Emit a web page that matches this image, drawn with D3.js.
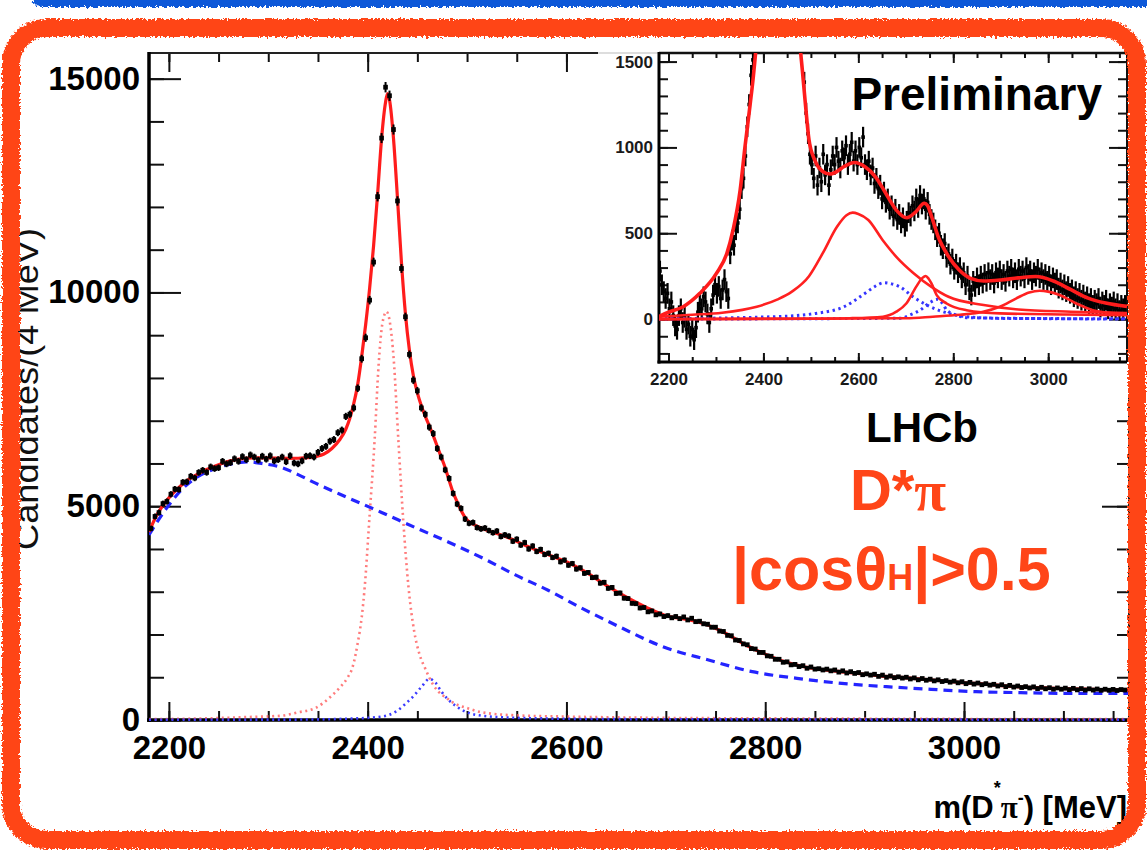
<!DOCTYPE html>
<html>
<head>
<meta charset="utf-8">
<script src="https://cdn.jsdelivr.net/npm/d3@7"></script>
<style>
html, body { margin: 0; padding: 0; background: #fff; }
svg { display: block; font-family: "Liberation Sans", Arial, Helvetica, sans-serif; }
</style>
</head>
<body>
<div id="chart"></div>
<script>
// binned data, 4 MeV bins starting at 2180
var binStart = 2180, binWidth = 4;

// main plot, candidates per bin
var counts = [
  4480, 4760, 4850, 5060, 5110, 5280, 5400, 5390, 5560, 5570,
  5700, 5660, 5790, 5840, 5790, 5920, 5880, 5900, 6050, 5990,
  6020, 6110, 6050, 6160, 6090, 6200, 6150, 6080, 6170, 6100,
  6180, 6060, 6090, 6150, 6040, 6180, 6010, 5990, 6060, 6170,
  6180, 6150, 6260, 6350, 6400, 6520, 6560, 6720, 6780, 7100,
  7150, 7300, 7760, 8450, 8940, 9820, 10710, 12240, 13610, 14800,
  14600, 13810, 12140, 10560, 9430, 8550, 7950, 7700, 7300, 7150,
  6850, 6700, 6350, 6150, 5850, 5650, 5300, 5050, 4950, 4700,
  4600, 4620, 4500, 4470, 4490, 4430, 4380, 4420, 4290, 4330,
  4300, 4180, 4230, 4090, 4150, 4000, 4070, 3940, 3990, 3870,
  3900, 3800, 3830, 3700, 3740, 3620, 3660, 3530, 3560, 3430,
  3450, 3330, 3340, 3200, 3220, 3080, 3100, 2960, 2970, 2850,
  2840, 2730, 2720, 2620, 2630, 2530, 2550, 2460, 2480, 2420,
  2440, 2390, 2420, 2370, 2410, 2340, 2380, 2300, 2310, 2250,
  2240, 2170, 2170, 2080, 2070, 1980, 1970, 1870, 1860, 1780,
  1760, 1670, 1660, 1580, 1580, 1500, 1490, 1420, 1420, 1350,
  1360, 1290, 1300, 1250, 1270, 1210, 1240, 1190, 1200, 1170,
  1190, 1150, 1170, 1120, 1150, 1100, 1130, 1090, 1110, 1060,
  1080, 1050, 1070, 1020, 1050, 1000, 1030, 990, 1010, 980,
  1000, 960, 985, 940, 970, 930, 955, 915, 940, 900,
  920, 885, 910, 870, 895, 850, 880, 840, 865, 825,
  850, 815, 835, 795, 825, 780, 810, 770, 795, 760,
  780, 750, 775, 735, 765, 730, 755, 720, 750, 720,
  745, 710, 740, 705, 735, 700, 730, 700, 725, 695,
  720, 695, 715, 690, 712, 700
];

// inset (zoomed) data, null = off scale
var insetCounts = [
  280, 200, 160, 120, 150, 60, 100, 20, -40, -60,
  20, 60, -20, 10, -60, -30, -100, -60, -120, -50,
  40, 90, 60, 130, 100, 30, -20, 60, 140, 200,
  150, 190, 120, 170, 230, 160, 120, 380, 460, 430,
  520, 560, 640, 760, 820, 950, 1120, 1250, 1420, 1510,
  null, null, null, null, null, null, null, null, null, null,
  null, null, null, null, null, null, null, null, null, null,
  null, null, null, null, null, null, 1380, 1200, 1080, 960,
  900, 820, 950, 780, 880, 800, 960, 840, 900, 780,
  870, 950, 900, 1000, 920, 880, 980, 940, 1010, 900,
  960, 1030, 920, 980, 900, 1000, 940, 1060, 900, 870,
  920, 840, 880, 790, 820, 760, 780, 700, 740, 680,
  700, 640, 660, 600, 640, 580, 610, 560, 590, 540,
  570, 620, 600, 660, 630, 700, 650, 720, 670, 700,
  640, 680, 610, 580, 560, 520, 480, 500, 430, 410,
  440, 360, 380, 320, 350, 290, 320, 270, 300, 240,
  270, 200, 250, 170, 140, 220, 190, 240, 200, 250,
  210, 260, 220, 270, 230, 260, 210, 270, 240, 280,
  230, 260, 220, 280, 250, 290, 240, 270, 230, 290,
  250, 280, 240, 300, 260, 280, 230, 270, 250, 290,
  240, 270, 230, 260, 220, 250, 200, 240, 210, 230,
  180, 210, 170, 200, 160, 190, 150, 170, 130, 160,
  120, 150, 110, 140, 100, 130, 90, 120, 80, 110,
  90, 120, 70, 100, 80, 110, 60, 90, 70, 100,
  60, 90, 50, 80, 60, 80
];
var insetErr = 60;

// main plot curves [mass, value]
var fitCurve = [
  [2180, 4400], [2188, 4800], [2196, 5080], [2204, 5300], [2212, 5480], [2220, 5630],
  [2228, 5740], [2236, 5840], [2244, 5920], [2252, 5990], [2260, 6050], [2268, 6090],
  [2276, 6120], [2284, 6130], [2292, 6130], [2300, 6130], [2310, 6125], [2320, 6120],
  [2330, 6122], [2340, 6135], [2348, 6165], [2356, 6220], [2364, 6350], [2372, 6560],
  [2378, 6800], [2382, 7050], [2386, 7400], [2390, 7850], [2394, 8500], [2398, 9250],
  [2402, 10100], [2406, 11100], [2410, 12300], [2414, 13600], [2418, 14450], [2420, 14650],
  [2422, 14500], [2426, 13600], [2430, 12200], [2434, 10700], [2438, 9500], [2442, 8650],
  [2446, 8050], [2450, 7650], [2454, 7350], [2458, 7100], [2462, 6880], [2466, 6650],
  [2470, 6400], [2474, 6150], [2478, 5900], [2482, 5600], [2486, 5320], [2490, 5100],
  [2494, 4900], [2498, 4740], [2502, 4640], [2506, 4580], [2520, 4440], [2540, 4280],
  [2560, 4070], [2580, 3880], [2600, 3700], [2620, 3450], [2640, 3150], [2660, 2880],
  [2680, 2640], [2700, 2440], [2720, 2360], [2740, 2240], [2760, 2030], [2780, 1760],
  [2800, 1540], [2820, 1360], [2840, 1240], [2860, 1170], [2880, 1120], [2900, 1070],
  [2920, 1020], [2940, 990], [2960, 950], [2980, 910], [3000, 870], [3020, 840],
  [3040, 800], [3060, 770], [3080, 750], [3100, 735], [3120, 720], [3140, 710], [3166, 700]
];
var bkgCurve = [
  [2180, 4330], [2196, 4900], [2213, 5390], [2229, 5690], [2246, 5870], [2263, 5990],
  [2280, 6035], [2296, 5990], [2313, 5910], [2330, 5740], [2347, 5545], [2380, 5200],
  [2414, 4855], [2447, 4510], [2481, 4165], [2518, 3760], [2548, 3400], [2582, 3030],
  [2615, 2620], [2653, 2183], [2697, 1715], [2743, 1403], [2787, 1130], [2832, 974],
  [2877, 857], [2922, 779], [2967, 717], [3012, 662], [3057, 639], [3102, 623], [3166, 620]
];
var d1Curve = [
  [2180, 20], [2240, 40], [2280, 70], [2313, 100], [2330, 180], [2347, 276], [2364, 572],
  [2372, 760], [2380, 1000], [2385, 1250], [2390, 1800], [2394, 2400], [2397, 3100],
  [2402, 4800], [2407, 6550], [2411, 8300], [2415, 9300], [2419, 9550], [2423, 9200],
  [2426, 8500], [2431, 6500], [2436, 4600], [2441, 3130], [2447, 2050], [2452, 1550],
  [2458, 1200], [2466, 820], [2471, 670], [2480, 500], [2488, 380], [2500, 280],
  [2515, 180], [2548, 110], [2600, 80], [2700, 50], [2850, 35], [3000, 25], [3166, 20]
];
var d2Curve = [
  [2180, 5], [2330, 10], [2380, 30], [2414, 80], [2430, 220], [2440, 420], [2447, 580],
  [2455, 800], [2462, 960], [2468, 880], [2474, 670], [2481, 480], [2488, 340],
  [2500, 180], [2515, 100], [2550, 50], [2650, 20], [3166, 5]
];

// inset curves [mass, value]
var insetFitLeft = [
  [2180, 15], [2200, 40], [2231, 72], [2266, 150], [2301, 266], [2323, 383], [2336, 519],
  [2351, 752], [2361, 1000], [2372, 1250], [2379, 1420], [2385, 1600], [2390, 1800]
];
var insetFitRight = [
  [2472, 1800], [2477, 1600], [2482, 1450], [2489, 1236], [2496, 1044], [2508, 927],
  [2525, 860], [2540, 845], [2555, 860], [2569, 887], [2592, 912], [2614, 887],
  [2636, 829], [2658, 732], [2680, 635], [2702, 590], [2721, 625], [2739, 675],
  [2746, 660], [2754, 600], [2768, 481], [2790, 365], [2812, 287], [2835, 239],
  [2864, 222], [2900, 228], [2937, 240], [2974, 248], [3011, 222], [3048, 171],
  [3084, 122], [3121, 93], [3166, 74]
];
var insetBroad = [
  [2180, 14], [2250, 25], [2313, 37], [2386, 72], [2430, 115], [2460, 160], [2496, 250],
  [2525, 384], [2555, 538], [2575, 605], [2588, 620], [2600, 612], [2621, 577],
  [2651, 461], [2680, 363], [2717, 266], [2754, 188], [2790, 130], [2864, 82],
  [2937, 56], [3048, 43], [3166, 35]
];
var insetNarrow = [
  [2180, 0], [2500, 2], [2582, 5], [2652, 14], [2680, 43], [2701, 91], [2722, 189],
  [2735, 240], [2742, 251], [2748, 235], [2754, 208], [2765, 140], [2786, 91],
  [2828, 52], [2898, 33], [3038, 27], [3166, 23]
];
var insetHigh = [
  [2180, 0], [2700, 5], [2757, 14], [2814, 25], [2863, 43], [2898, 72], [2933, 121],
  [2960, 155], [2982, 165], [3000, 160], [3024, 140], [3059, 91], [3094, 52],
  [3144, 33], [3166, 28]
];
var insetBlueBroad = [
  [2180, 2], [2423, 14], [2510, 33], [2570, 72], [2614, 150], [2635, 190], [2654, 212],
  [2670, 205], [2687, 189], [2715, 130], [2744, 82], [2778, 43], [2828, 14],
  [2900, 4], [3166, 2]
];
var insetBlueNarrow = [
  [2180, 0], [2690, 5], [2708, 23], [2730, 52], [2750, 95], [2766, 115], [2780, 80],
  [2786, 52], [2807, 23], [2830, 8], [3166, 0]
];

// tick labels
var massTicks = [2200, 2400, 2600, 2800, 3000];
var mainYTicks = [0, 5000, 10000, 15000];
var insetYTicks = [0, 500, 1000, 1500];

var W = 1147, H = 850;
var ORANGE = "#ff4518";
var FONT = '"Liberation Sans", Arial, Helvetica, sans-serif';

var svg = d3.select("#chart").append("svg")
    .attr("width", W)
    .attr("height", H);

var defs = svg.append("defs");
var rough = defs.append("filter").attr("id", "rough")
    .attr("x", "-5%").attr("y", "-5%").attr("width", "110%").attr("height", "110%");
rough.append("feTurbulence").attr("type", "fractalNoise").attr("baseFrequency", 0.45)
    .attr("numOctaves", 2).attr("seed", 3).attr("result", "noise");
rough.append("feDisplacementMap").attr("in", "SourceGraphic").attr("in2", "noise")
    .attr("scale", 6).attr("xChannelSelector", "R").attr("yChannelSelector", "G");

// ---------- main plot ----------
var x = d3.scaleLinear().domain([2180, 3166]).range([149, 1129]);
var y = d3.scaleLinear().domain([0, 15600]).range([720, 53]);

defs.append("clipPath").attr("id", "clipMain").append("rect")
    .attr("x", 149).attr("y", 53).attr("width", 980).attr("height", 669);

function bin(i) { return binStart + binWidth * i + binWidth / 2; }

function styleAxis(g, size) {
  g.select(".domain").remove();
  g.selectAll(".tick line").attr("stroke", "#111").attr("stroke-width", 2);
  g.selectAll(".tick text")
      .attr("fill", "#000")
      .style("font-family", FONT)
      .style("font-weight", "bold")
      .style("font-size", size + "px");
  return g;
}

var main = svg.append("g");

main.append("g").attr("transform", "translate(0,720)")
    .call(d3.axisBottom(x).ticks(20).tickSize(-9).tickFormat(""))
    .call(styleAxis, 33);
main.append("g").attr("transform", "translate(0,720)")
    .call(d3.axisBottom(x).tickValues(massTicks).tickSize(-18).tickPadding(16).tickFormat(d3.format("d")))
    .call(styleAxis, 33);
main.append("g").attr("transform", "translate(0,53)")
    .call(d3.axisTop(x).ticks(20).tickSize(-9).tickFormat(""))
    .call(styleAxis, 33);
main.append("g").attr("transform", "translate(0,53)")
    .call(d3.axisTop(x).tickValues(massTicks).tickSize(-19).tickFormat(""))
    .call(styleAxis, 33);
main.append("g").attr("transform", "translate(149,0)")
    .call(d3.axisLeft(y).ticks(16).tickSize(-15).tickFormat(""))
    .call(styleAxis, 33);
main.append("g").attr("transform", "translate(149,0)")
    .call(d3.axisLeft(y).tickValues(mainYTicks).tickSize(-32).tickPadding(9).tickFormat(d3.format("d")))
    .call(styleAxis, 33);
main.append("g").attr("transform", "translate(1129,0)")
    .call(d3.axisRight(y).ticks(16).tickSize(-12).tickFormat(""))
    .call(styleAxis, 33);
main.append("g").attr("transform", "translate(1129,0)")
    .call(d3.axisRight(y).tickValues(mainYTicks).tickSize(-27).tickFormat(""))
    .call(styleAxis, 33);

// frame
main.append("line").attr("x1", 149).attr("x2", 1129).attr("y1", 53).attr("y2", 53)
    .attr("stroke", "#222").attr("stroke-width", 2);
main.append("line").attr("x1", 1129).attr("x2", 1129).attr("y1", 53).attr("y2", 720)
    .attr("stroke", "#222").attr("stroke-width", 2);
main.append("line").attr("x1", 149).attr("x2", 149).attr("y1", 52).attr("y2", 722)
    .attr("stroke", "#000").attr("stroke-width", 3.5);
main.append("line").attr("x1", 147).attr("x2", 1129).attr("y1", 720).attr("y2", 720)
    .attr("stroke", "#000").attr("stroke-width", 3.5);

var lineMain = d3.line()
    .x(function(d) { return x(d[0]); })
    .y(function(d) { return y(d[1]); })
    .curve(d3.curveMonotoneX);

var plotMain = main.append("g").attr("clip-path", "url(#clipMain)");

plotMain.append("path").datum(bkgCurve).attr("d", lineMain)
    .attr("fill", "none").attr("stroke", "#2424ff").attr("stroke-width", 3.2)
    .attr("stroke-dasharray", "9,6");
plotMain.append("path").datum(d1Curve).attr("d", lineMain)
    .attr("fill", "none").attr("stroke", "#ff5a5a").attr("stroke-width", 2.6)
    .attr("stroke-dasharray", "2,3.6").attr("opacity", 0.8);
plotMain.append("path").datum(d2Curve).attr("d", lineMain)
    .attr("fill", "none").attr("stroke", "#3a3aff").attr("stroke-width", 2.6)
    .attr("stroke-dasharray", "2,3.6");
plotMain.append("path").datum(fitCurve).attr("d", lineMain)
    .attr("fill", "none").attr("stroke", "#ff1c1c").attr("stroke-width", 3.2);

var pts = plotMain.append("g").selectAll("g")
    .data(counts)
    .enter()
    .append("g");
pts.append("line")
    .attr("x1", function(d, i) { return x(bin(i)); })
    .attr("x2", function(d, i) { return x(bin(i)); })
    .attr("y1", function(d) { return y(d - Math.sqrt(d)); })
    .attr("y2", function(d) { return y(d + Math.sqrt(d)); })
    .attr("stroke", "#000").attr("stroke-width", 2);
pts.append("rect")
    .attr("x", function(d, i) { return x(bin(i)) - 2.3; })
    .attr("y", function(d) { return y(d) - 2.4; })
    .attr("width", 4.6).attr("height", 4.8)
    .attr("fill", "#000");

// y axis title (partly hidden by the frame)
svg.append("text")
    .attr("transform", "translate(38,389) rotate(-90)")
    .attr("text-anchor", "middle")
    .attr("textLength", 322)
    .attr("lengthAdjust", "spacingAndGlyphs")
    .style("font-size", "33px")
    .attr("fill", "#111")
    .text("Candidates/(4 MeV)");

// x axis title
var xt = svg.append("text")
    .attr("x", 1127).attr("y", 818)
    .attr("text-anchor", "end")
    .style("font-size", "31px").style("font-weight", "bold")
    .attr("fill", "#000");
xt.append("tspan").text("m(D");
xt.append("tspan").attr("dy", -24).style("font-size", "18px").text("*");
xt.append("tspan").attr("dy", 24).style("font-family", '"Liberation Serif", serif').text("\u03c0");
xt.append("tspan").attr("dy", -14).style("font-size", "18px").text("-");
xt.append("tspan").attr("dy", 14).text(") [MeV]");

// ---------- inset ----------
svg.append("rect").attr("x", 598).attr("y", 36).attr("width", 540).attr("height", 362)
    .attr("fill", "#fff");
svg.append("line").attr("x1", 598).attr("x2", 659).attr("y1", 53).attr("y2", 53)
    .attr("stroke", "#bbb").attr("stroke-width", 1.2);

var xi = d3.scaleLinear().domain([2180, 3166]).range([659, 1127]);
var yi = d3.scaleLinear().domain([-250, 1550]).range([362, 53]);

defs.append("clipPath").attr("id", "clipInset").append("rect")
    .attr("x", 659).attr("y", 53).attr("width", 468).attr("height", 309);

var inset = svg.append("g");

inset.append("g").attr("transform", "translate(0,362)")
    .call(d3.axisBottom(xi).ticks(20).tickSize(-5).tickFormat(""))
    .call(styleAxis, 17);
inset.append("g").attr("transform", "translate(0,362)")
    .call(d3.axisBottom(xi).tickValues(massTicks).tickSize(-9).tickPadding(11).tickFormat(d3.format("d")))
    .call(styleAxis, 17);
inset.append("g").attr("transform", "translate(0,53)")
    .call(d3.axisTop(xi).ticks(20).tickSize(-5).tickFormat(""))
    .call(styleAxis, 17);
inset.append("g").attr("transform", "translate(0,53)")
    .call(d3.axisTop(xi).tickValues(massTicks).tickSize(-10).tickFormat(""))
    .call(styleAxis, 17);
inset.append("g").attr("transform", "translate(659,0)")
    .call(d3.axisLeft(yi).ticks(18).tickSize(-9).tickFormat(""))
    .call(styleAxis, 17);
inset.append("g").attr("transform", "translate(659,0)")
    .call(d3.axisLeft(yi).tickValues(insetYTicks).tickSize(-18).tickPadding(6).tickFormat(d3.format("d")))
    .call(styleAxis, 17);
inset.append("g").attr("transform", "translate(1127,0)")
    .call(d3.axisRight(yi).ticks(18).tickSize(-9).tickFormat(""))
    .call(styleAxis, 17);
inset.append("g").attr("transform", "translate(1127,0)")
    .call(d3.axisRight(yi).tickValues(insetYTicks).tickSize(-18).tickFormat(""))
    .call(styleAxis, 17);
inset.selectAll(".tick text").attr("fill", "#1a1a1a");

inset.append("line").attr("x1", 659).attr("x2", 1127).attr("y1", 53).attr("y2", 53)
    .attr("stroke", "#111").attr("stroke-width", 2.5);
inset.append("line").attr("x1", 1127).attr("x2", 1127).attr("y1", 53).attr("y2", 362)
    .attr("stroke", "#111").attr("stroke-width", 2);
inset.append("line").attr("x1", 659).attr("x2", 659).attr("y1", 52).attr("y2", 363.5)
    .attr("stroke", "#000").attr("stroke-width", 3);
inset.append("line").attr("x1", 657.5).attr("x2", 1127).attr("y1", 362).attr("y2", 362)
    .attr("stroke", "#000").attr("stroke-width", 3);

var lineInset = d3.line()
    .x(function(d) { return xi(d[0]); })
    .y(function(d) { return yi(d[1]); })
    .curve(d3.curveMonotoneX);

var plotInset = inset.append("g").attr("clip-path", "url(#clipInset)");

var ipts = plotInset.append("g").selectAll("g")
    .data(insetCounts.map(function(v, i) { return { m: bin(i), v: v }; })
        .filter(function(d) { return d.v !== null; }))
    .enter()
    .append("g");
ipts.append("line")
    .attr("x1", function(d) { return xi(d.m); })
    .attr("x2", function(d) { return xi(d.m); })
    .attr("y1", function(d) { return yi(d.v - insetErr); })
    .attr("y2", function(d) { return yi(d.v + insetErr); })
    .attr("stroke", "#000").attr("stroke-width", 2.2);
ipts.append("rect")
    .attr("x", function(d) { return xi(d.m) - 1.8; })
    .attr("y", function(d) { return yi(d.v) - 1.8; })
    .attr("width", 3.6).attr("height", 3.6)
    .attr("fill", "#000");

[insetBlueBroad, insetBlueNarrow].forEach(function(c) {
  plotInset.append("path").datum(c).attr("d", lineInset)
      .attr("fill", "none").attr("stroke", "#3535ff").attr("stroke-width", 3)
      .attr("stroke-dasharray", "2.4,3.6");
});
[insetBroad, insetNarrow, insetHigh].forEach(function(c) {
  plotInset.append("path").datum(c).attr("d", lineInset)
      .attr("fill", "none").attr("stroke", "#ff2020").attr("stroke-width", 2.6);
});
[insetFitLeft, insetFitRight].forEach(function(c) {
  plotInset.append("path").datum(c).attr("d", lineInset)
      .attr("fill", "none").attr("stroke", "#ff1c1c").attr("stroke-width", 3.6);
});

svg.append("text")
    .attr("x", 1102).attr("y", 110)
    .attr("text-anchor", "end")
    .style("font-size", "46px").style("font-weight", "bold")
    .attr("fill", "#000")
    .text("Preliminary");

// ---------- labels ----------
svg.append("text")
    .attr("x", 922).attr("y", 442)
    .attr("text-anchor", "middle")
    .style("font-size", "42px").style("font-weight", "bold")
    .attr("fill", "#000")
    .text("LHCb");

var dpi = svg.append("text")
    .attr("x", 898).attr("y", 510)
    .attr("text-anchor", "middle")
    .style("font-size", "58px").style("font-weight", "bold")
    .attr("fill", ORANGE);
dpi.append("tspan").text("D*");
dpi.append("tspan").style("font-family", '"Liberation Serif", serif').text("\u03c0");

var cos = svg.append("text")
    .attr("x", 732).attr("y", 590)
    .style("font-size", "61px").style("font-weight", "bold")
    .attr("fill", ORANGE);
cos.append("tspan").text("|cos\u03b8");
cos.append("tspan").style("font-size", "36px").text("H");
cos.append("tspan").text("|>0.5");

// ---------- sketchy frames ----------
svg.append("rect")
    .attr("x", 32).attr("y", -14).attr("width", 1140).attr("height", 21).attr("rx", 9)
    .attr("fill", "#1158d8")
    .attr("filter", "url(#rough)");

svg.append("rect")
    .attr("x", 11).attr("y", 28).attr("width", 1126).attr("height", 812)
    .attr("rx", 36)
    .attr("fill", "none")
    .attr("stroke", ORANGE)
    .attr("stroke-width", 18)
    .attr("filter", "url(#rough)");
</script>
</body>
</html>
